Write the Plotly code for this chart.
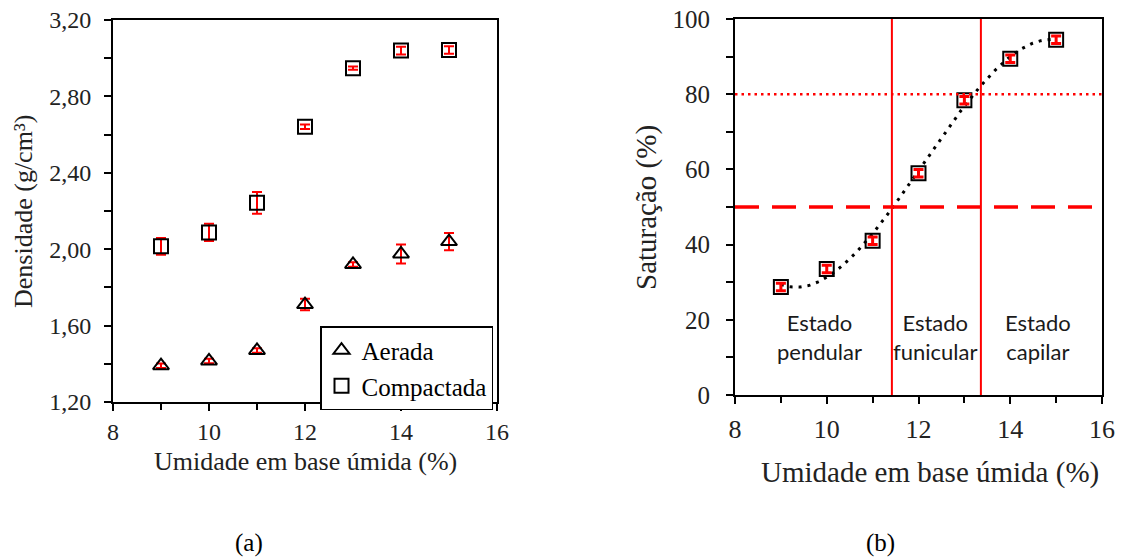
import numpy as np
import plotly.graph_objects as go

# ---------------- data ----------------
umidade = [9, 10, 11, 12, 13, 14, 15]

aerada = [1.39, 1.415, 1.47, 1.71, 1.92, 1.975, 2.04]
aerada_err = [0.012, 0.012, 0.012, 0.03, 0.012, 0.05, 0.045]

compactada = [2.015, 2.088, 2.243, 2.641, 2.948, 3.04, 3.043]
compactada_err = [0.044, 0.045, 0.057, 0.012, 0.008, 0.02, 0.02]

saturacao = [28.7, 33.5, 41.0, 59.0, 78.4, 89.4, 94.5]
saturacao_err = [1.0, 1.0, 1.0, 1.0, 1.0, 1.0, 1.0]

limites_estado = [11.42, 13.36]      # vertical red lines
linha_80 = 80
linha_50 = 50

estados = ["Estado<br>pendular", "Estado<br>funicular", "Estado<br>capilar"]
estados_x = [9.85, 12.36, 14.6]

left_ticks = [1.2, 1.6, 2.0, 2.4, 2.8, 3.2]
x_ticks = [8, 10, 12, 14, 16]
right_ticks = [0, 20, 40, 60, 80, 100]

# polynomial trendline (3rd order) of saturation data
coef = np.polyfit(umidade, saturacao, 3)
xt = np.linspace(min(umidade), max(umidade), 200)
yt = np.polyval(coef, xt)

SERIF = "Times New Roman"
SANS = "Lato"
RED = "#ff0000"
W, H = 1142, 560
OFF = 8  # page body margin


def px(x):
    return (x - OFF) / W


def py(y):
    return 1 - (y - OFF) / H


fig = go.Figure()

fig.add_trace(go.Scatter(
    x=umidade, y=aerada, mode="markers", name="Aerada",
    marker=dict(symbol="triangle-up-open", size=14, color="black",
                line=dict(width=2, color="black")),
    error_y=dict(type="data", array=aerada_err, color=RED, thickness=2, width=5),
    xaxis="x", yaxis="y"))

fig.add_trace(go.Scatter(
    x=umidade, y=compactada, mode="markers", name="Compactada",
    marker=dict(symbol="square-open", size=14, color="black",
                line=dict(width=2, color="black")),
    error_y=dict(type="data", array=compactada_err, color=RED, thickness=2, width=5),
    xaxis="x", yaxis="y"))

fig.add_trace(go.Scatter(
    x=xt, y=yt, mode="lines", showlegend=False,
    line=dict(color="black", width=3, dash="3px,6px"),
    xaxis="x2", yaxis="y2", hoverinfo="skip"))

fig.add_trace(go.Scatter(
    x=umidade, y=saturacao, mode="markers", showlegend=False,
    marker=dict(symbol="square-open", size=14, color="black",
                line=dict(width=2, color="black")),
    error_y=dict(type="data", array=saturacao_err, color=RED, thickness=3, width=5),
    xaxis="x2", yaxis="y2"))

shapes = []
for xv in limites_estado:
    shapes.append(dict(type="line", xref="x2", yref="y2", x0=xv, x1=xv, y0=0, y1=100,
                       line=dict(color=RED, width=2)))
shapes.append(dict(type="line", xref="x2", yref="y2", x0=8, x1=16, y0=linha_80, y1=linha_80,
                   line=dict(color=RED, width=2.5, dash="2.5px,4px")))
shapes.append(dict(type="line", xref="x2", yref="y2", x0=8, x1=16, y0=linha_50, y1=linha_50,
                   line=dict(color=RED, width=3.5, dash="24px,13px")))

annotations = []
for txt, xv in zip(estados, estados_x):
    annotations.append(dict(text=txt, x=xv, y=15.4, xref="x2", yref="y2", showarrow=False,
                            xanchor="center", yanchor="middle",
                            font=dict(family=SANS, size=22, color="#1a1a1a"), align="center"))


def paper_text(text, x, y, size, angle=0, color="#222"):
    return dict(text=text, x=px(x), y=py(y), xref="paper", yref="paper",
                xanchor="center", yanchor="middle", showarrow=False, textangle=angle,
                font=dict(family=SERIF, size=size, color=color))


annotations += [
    paper_text("Umidade em base úmida (%)", 305, 461, 26),
    paper_text("Umidade em base úmida (%)", 930, 472, 29),
    paper_text("Densidade (g/cm³)", 23, 212, 26, angle=-90),
    paper_text("Saturação (%)", 646, 208, 29, angle=-90),
    paper_text("(a)", 249, 543, 25, color="black"),
    paper_text("(b)", 880, 543, 25, color="black"),
]

axis_common = dict(showline=True, linecolor="black", linewidth=2, mirror=True,
                   ticks="outside", ticklen=7, tickwidth=2, tickcolor="black",
                   showgrid=False, zeroline=False, automargin=False,
                   ticklabeloverflow="allow")

fig.update_layout(
    template="none",
    width=W, height=H,
    margin=dict(l=0, r=0, t=0, b=0, pad=0),
    paper_bgcolor="white", plot_bgcolor="white",
    font=dict(family=SERIF, color="#222"),
    separators=",.",
    showlegend=True,
    legend=dict(x=px(320), y=py(326), xanchor="left", yanchor="top",
                bordercolor="black", borderwidth=1.5, bgcolor="white",
                font=dict(family=SERIF, size=25, color="black"),
                itemwidth=30, tracegroupgap=0),
    xaxis=dict(domain=[px(113), px(497)], range=[8, 16], tickvals=x_ticks,
               anchor="y", tickfont=dict(family=SERIF, size=24, color="#222"),
               minor=dict(dtick=1, tick0=8, ticks="outside", ticklen=6, tickwidth=2, tickcolor="black"),
               ticklabelstandoff=0,
               **axis_common),
    yaxis=dict(domain=[py(402), py(20)], range=[1.2, 3.2], tickvals=left_ticks,
               tickformat=".2f", anchor="x", tickfont=dict(family=SERIF, size=24, color="#222"),
               minor=dict(dtick=0.2, tick0=1.2, ticks="outside", ticklen=7, tickwidth=2, tickcolor="black"),
               ticklabelstandoff=8,
               **axis_common),
    xaxis2=dict(domain=[px(735), px(1102)], range=[8, 16], tickvals=x_ticks,
                anchor="y2", tickfont=dict(family=SERIF, size=26, color="#222"),
                minor=dict(dtick=1, tick0=8, ticks="outside", ticklen=6, tickwidth=2, tickcolor="black"),
                ticklabelstandoff=3,
                **axis_common),
    yaxis2=dict(domain=[py(395), py(19)], range=[0, 100], tickvals=right_ticks,
                anchor="x2", tickfont=dict(family=SERIF, size=25, color="#222"),
                minor=dict(dtick=10, tick0=0, ticks="outside", ticklen=7, tickwidth=2, tickcolor="black"),
                ticklabelstandoff=11,
                **axis_common),
    shapes=shapes,
    annotations=annotations,
)

fig.write_html("out.html")
